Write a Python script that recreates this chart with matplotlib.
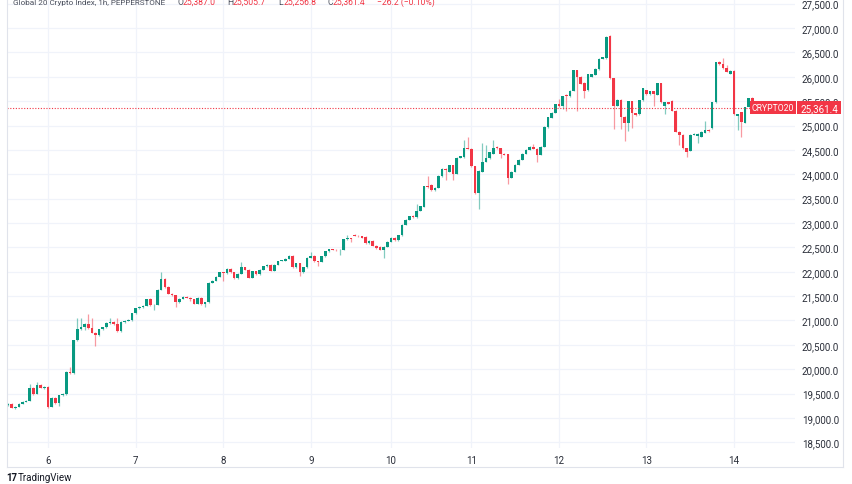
import matplotlib
matplotlib.use("Agg")
import matplotlib.pyplot as plt
from matplotlib.patches import Rectangle
from matplotlib.lines import Line2D
import numpy as np

# hourly candles, Global 20 Crypto Index (PEPPERSTONE), one row per ~10 bars
opens = [
    19270, 19290, 19210, 19230, 19290, 19330, 19350, 19620, 19500, 19675,
    19620, 19630, 19230, 19415, 19306, 19470, 19490, 19948, 19920, 20593,
    20825, 20863, 20933, 20840, 20750, 20700, 20822, 20860, 20945, 20960,
    20920, 20780, 20970, 20990, 21010, 21150, 21250, 21280, 21300, 21440,
    21310, 21320, 21630, 21850, 21680, 21550, 21520, 21370, 21450, 21490,
    21470, 21440, 21340, 21470, 21330, 21370, 21770, 21810, 21900, 21990,
    21970, 22060, 21990, 21870, 21960, 22090, 22040, 21880, 22010, 21950,
    22040, 22110, 22140, 22020, 22140, 22220, 22230, 22270, 22330, 22090,
    22170, 21990, 22090, 22290, 22330, 22210, 22200, 22320, 22420, 22460,
    22450, 22440, 22450, 22670, 22690, 22760, 22740, 22730, 22720, 22580,
    22640, 22530, 22510, 22450, 22510, 22620, 22700, 22650, 22750, 22960,
    23070, 23140, 23120, 23250, 23330, 23760, 23780, 23670, 23720, 23960,
    24110, 24050, 24180, 24010, 24340, 24350, 24540, 24520, 24160, 23610,
    24050, 24260, 24330, 24420, 24560, 24530, 24420, 24410, 23930, 24050,
    24200, 24300, 24420, 24500, 24560, 24520, 24400, 24560, 24960, 25160,
    25260, 25440, 25400, 25620, 25600, 25710, 26130, 26000, 25880, 25720,
    26000, 26040, 26150, 26370, 26380, 26830, 25970, 25410, 25530, 25180,
    25060, 25500, 25250, 25230, 25520, 25720, 25640, 25700, 25630, 25870,
    25410, 25480, 25510, 25300, 24870, 24810, 24530, 24480, 24810, 24780,
    24770, 24850, 24910, 24940, 25480, 26300, 26270, 26170, 26060, 26120,
    25200, 25270, 25060, 25380, 25560, 25387.0,
]
highs = [
    19300, 19310, 19240, 19300, 19340, 19360, 19700, 19640, 19730, 19690,
    19650, 19650, 19430, 19430, 19480, 19510, 19960, 20050, 20600, 21057,
    21050, 20950, 21126, 21050, 20770, 20830, 20870, 20960, 21050, 20980,
    21050, 20980, 21000, 21030, 21160, 21260, 21290, 21310, 21450, 21460,
    21330, 21640, 21988, 21870, 21700, 21570, 21530, 21460, 21500, 21500,
    21480, 21450, 21480, 21480, 21380, 21780, 21820, 21910, 22000, 22000,
    22070, 22070, 22000, 21970, 22200, 22100, 22050, 22020, 22020, 22050,
    22120, 22150, 22150, 22150, 22230, 22240, 22280, 22340, 22340, 22180,
    22180, 22100, 22300, 22400, 22340, 22220, 22330, 22430, 22470, 22470,
    22460, 22460, 22680, 22760, 22700, 22780, 22760, 22740, 22730, 22650,
    22650, 22550, 22520, 22520, 22630, 22710, 22710, 22760, 22970, 23080,
    23150, 23160, 23384, 23350, 23760, 23970, 23790, 23730, 23980, 24120,
    24130, 24190, 24190, 24350, 24380, 24700, 24760, 24530, 24170, 24080,
    24650, 24600, 24460, 24700, 24570, 24540, 24430, 24420, 24060, 24210,
    24310, 24430, 24510, 24570, 24620, 24530, 24570, 24980, 25180, 25270,
    25450, 25540, 25610, 25640, 25720, 26140, 26140, 26010, 25890, 26060,
    26060, 26170, 26380, 26410, 26830, 26860, 25980, 25540, 25540, 25190,
    25510, 25510, 25260, 25530, 25770, 25730, 25710, 25710, 25880, 25880,
    25490, 25490, 25520, 25310, 24880, 24820, 24540, 24820, 24840, 24840,
    24880, 25090, 24920, 25490, 26310, 26330, 26380, 26250, 26130, 26130,
    25240, 25280, 25390, 25570, 25580, 25505.7,
]
lows = [
    19240, 19200, 19180, 19220, 19280, 19320, 19340, 19480, 19490, 19610,
    19600, 19210, 19220, 19290, 19250, 19460, 19480, 19900, 19910, 20580,
    20800, 20800, 20830, 20740, 20482, 20690, 20810, 20850, 20930, 20900,
    20770, 20770, 20950, 20980, 20990, 21140, 21230, 21260, 21290, 21300,
    21220, 21310, 21620, 21670, 21540, 21500, 21270, 21360, 21440, 21460,
    21400, 21330, 21330, 21320, 21280, 21360, 21760, 21800, 21890, 21800,
    21960, 21980, 21860, 21860, 21950, 22030, 21870, 21870, 21940, 21940,
    22030, 22100, 22010, 22010, 22130, 22210, 22220, 22260, 22080, 22080,
    21920, 21980, 22080, 22280, 22200, 22110, 22190, 22310, 22410, 22440,
    22430, 22340, 22440, 22660, 22620, 22730, 22720, 22690, 22570, 22570,
    22520, 22470, 22440, 22280, 22500, 22610, 22640, 22640, 22740, 22950,
    23060, 23110, 23110, 23240, 23320, 23720, 23650, 23660, 23710, 23950,
    23880, 24040, 23880, 24000, 24330, 24340, 24510, 24150, 23600, 23290,
    24040, 24250, 24320, 24410, 24520, 24330, 24390, 23790, 23920, 24040,
    24190, 24290, 24410, 24490, 24510, 24260, 24390, 24550, 24950, 25150,
    25250, 25390, 25330, 25300, 25590, 25700, 25300, 25850, 25560, 25710,
    25990, 26030, 26140, 26360, 26370, 25960, 24930, 25400, 24930, 24680,
    24880, 24950, 25200, 25220, 25510, 25630, 25630, 25400, 25620, 25470,
    25240, 25440, 25290, 24860, 24600, 24520, 24350, 24470, 24800, 24640,
    24760, 24840, 24870, 24930, 25470, 26250, 26160, 26090, 26050, 25220,
    24900, 24760, 25050, 25370, 25500, 25256.8,
]
closes = [
    19280, 19210, 19230, 19290, 19330, 19350, 19620, 19500, 19675, 19620,
    19630, 19230, 19415, 19306, 19470, 19490, 19948, 19920, 20593, 20825,
    20863, 20933, 20840, 20750, 20700, 20822, 20860, 20945, 20960, 20920,
    20780, 20970, 20990, 21010, 21150, 21250, 21280, 21300, 21440, 21310,
    21320, 21630, 21850, 21680, 21550, 21520, 21370, 21450, 21490, 21470,
    21440, 21340, 21470, 21330, 21370, 21770, 21810, 21900, 21990, 21970,
    22060, 21990, 21870, 21960, 22090, 22040, 21880, 22010, 21950, 22040,
    22110, 22140, 22020, 22140, 22220, 22230, 22270, 22330, 22090, 22170,
    21990, 22090, 22290, 22330, 22210, 22200, 22320, 22420, 22460, 22450,
    22440, 22450, 22670, 22690, 22670, 22740, 22730, 22700, 22580, 22640,
    22530, 22480, 22450, 22510, 22620, 22700, 22650, 22750, 22960, 23070,
    23140, 23120, 23250, 23340, 23750, 23730, 23670, 23720, 23970, 24110,
    24090, 24180, 24010, 24340, 24370, 24530, 24520, 24160, 23610, 24070,
    24260, 24330, 24450, 24530, 24530, 24420, 24400, 23930, 24050, 24200,
    24300, 24420, 24500, 24560, 24520, 24400, 24560, 24970, 25170, 25260,
    25440, 25400, 25600, 25600, 25710, 26130, 26000, 25860, 25710, 26050,
    26050, 26160, 26370, 26400, 26820, 25970, 25410, 25530, 25180, 25060,
    25500, 25250, 25220, 25520, 25760, 25640, 25700, 25640, 25870, 25480,
    25480, 25450, 25300, 24870, 24810, 24530, 24450, 24810, 24830, 24830,
    24870, 24910, 24880, 25480, 26300, 26260, 26170, 26100, 26120, 25230,
    25230, 25070, 25380, 25560, 25510, 25361.4,
]

day_labels = ["6", "7", "8", "9", "10", "11", "12", "13", "14"]
day_bars = [11, 35, 59, 83, 105, 127, 151, 175, 199]
price_ticks = list(range(18500, 27501, 500))

GREEN = "#089981"
RED = "#f23645"
TXT = "#131722"
GRID = "#f0f3fa"

W, H = 852, 485
fig = plt.figure(figsize=(W / 100, H / 100), dpi=100)
fig.patch.set_facecolor("white")
plt.rcParams["font.family"] = ["Roboto", "DejaVu Sans"]

# chart pane: x 7..795 px, y 0..449 px
ax = fig.add_axes([7 / W, 1 - 449 / H, (795 - 7) / W, 449 / H])
ax.set_facecolor("white")

o = np.array(opens, dtype=float)
c = np.array(closes, dtype=float)
hi = np.array(highs, dtype=float)
lo = np.array(lows, dtype=float)
x = np.arange(len(c))
up = c >= o
cols = np.where(up, GREEN, RED)

ax.vlines(x, lo, hi, colors=cols, linewidth=0.9, alpha=0.5, zorder=2)
body_h = np.maximum(np.abs(c - o), 12)
ax.bar(x, body_h, bottom=np.minimum(o, c), width=0.72, color=cols, linewidth=0, zorder=3)

ax.set_xlim(-0.25, 215.7)
ax.set_ylim(18383, 27596)

ax.set_xticks(day_bars)
ax.set_xticklabels(day_labels)
ax.set_yticks(price_ticks)
ax.set_yticklabels([f"{p:,.1f}" for p in price_ticks])
ax.yaxis.tick_right()
ax.tick_params(axis="y", length=0, pad=5, labelsize=7, labelcolor="#2a2e39")
ax.tick_params(axis="x", length=0, pad=5, labelsize=7, labelcolor="#2a2e39")
ax.grid(True, color=GRID, linewidth=0.9, zorder=0)
for s in ax.spines.values():
    s.set_visible(False)

# last price line
last = closes[-1]
ax.axhline(last, color=RED, linestyle=(0, (1, 1.5)), linewidth=0.8, zorder=4)

fig.canvas.draw()
y_px = ax.transData.transform((0, last))[1]
yf = y_px / H
bh = 13 / H
fig.add_artist(Rectangle((750 / W, yf - bh / 2), 46 / W, bh, transform=fig.transFigure,
                         facecolor=RED, edgecolor="none", zorder=10))
fig.text(773 / W, yf, "CRYPTO20", color="white", fontsize=6.2, ha="center", va="center", zorder=11)
fig.add_artist(Rectangle((797 / W, yf - bh / 2), 44 / W, bh, transform=fig.transFigure,
                         facecolor=RED, edgecolor="none", zorder=10))
fig.text(819 / W, yf, f"{last:,.1f}", color="white", fontsize=7, ha="center", va="center", zorder=11)

# outer frame
frame = "#e0e3eb"
fig.add_artist(Line2D([7 / W, 7 / W], [1, 1 - 468 / H], color=frame, linewidth=0.8, transform=fig.transFigure))
fig.add_artist(Line2D([843 / W, 843 / W], [1, 1 - 468 / H], color=frame, linewidth=0.8, transform=fig.transFigure))
fig.add_artist(Line2D([7 / W, 843 / W], [1 - 468 / H, 1 - 468 / H], color=frame, linewidth=0.8, transform=fig.transFigure))

# header (cut off at the top edge, as in the screenshot)
yb = 1 - 5 / H
hfs = 6.2
fig.text(13 / W, yb, "Global 20 Crypto Index, 1h, PEPPERSTONE", color="#4a4f5c", fontsize=5.9, va="baseline")
for xp, lab, val in [(177, "O", "25,387.0"), (227, "H", "25,505.7"), (278, "L", "25,256.8"), (327, "C", "25,361.4")]:
    fig.text(xp / W, yb, lab, color="#4a4f5c", fontsize=hfs, va="baseline")
    fig.text((xp + 5.5) / W, yb, val, color=RED, fontsize=hfs, va="baseline")
fig.text(377 / W, yb, "\u221226.2 (\u22120.10%)", color=RED, fontsize=hfs, va="baseline")

# TradingView mark
fig.text(6 / W, 1 - 478 / H, "17", color=TXT, fontsize=7, fontweight="bold", va="center")
fig.text(18 / W, 1 - 478 / H, "TradingView", color=TXT, fontsize=7, va="center")

fig.savefig("out.png", dpi=100, facecolor="white")
